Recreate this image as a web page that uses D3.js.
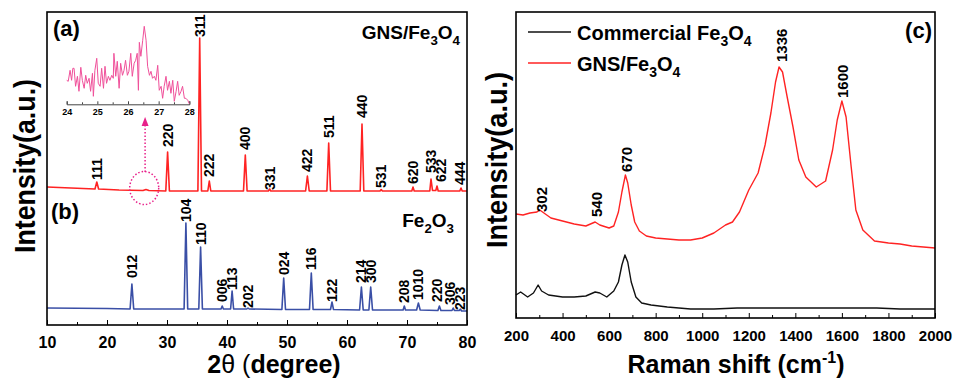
<!DOCTYPE html>
<html>
<head>
<meta charset="utf-8">
<script src="https://cdn.jsdelivr.net/npm/d3@7"></script>
<style>
body { margin: 0; background: #fff; }
svg text { font-family: "Liberation Sans", Arial, sans-serif; font-weight: bold; fill: #000; }
</style>
</head>
<body>
<svg id="chart" width="953" height="379"></svg>
<script>
// ---- XRD (a) GNS/Fe3O4 : [2theta, intensity a.u.]
var xrdGns = [[10,138],[14,137],[18.0,136],[18.3,143],[18.6,136],[22,135],[26,134.5],[26.5,135.5],[27,134.5],
  [29.8,134],[30.1,173],[30.4,134],[35.15,134],[35.45,287],[35.75,134],[36.8,134],[37.05,144],[37.3,134],
  [42.75,134],[43.05,170],[43.35,134],[46.9,134],[47.1,136],[47.3,134],[53.1,134],[53.4,149],[53.7,134],
  [56.65,134],[56.95,182],[57.25,134],[62.2,134],[62.5,201],[62.8,134],[65.5,134],[65.7,135.5],[65.9,134],
  [70.8,134],[71.0,138],[71.2,134],[73.8,134],[74.0,146],[74.25,134.5],[74.8,134.5],[75.0,139],[75.2,134],
  [78.8,134],[79.0,137],[79.2,134],[80,134]];
// ---- XRD (b) Fe2O3
var xrdFe2o3 = [[10,17],[20,16.5],[23.85,16],[24.15,41],[24.45,16],[32.85,16],[33.15,102],[33.45,16],
  [35.3,16],[35.6,78],[35.9,16],[39.0,16],[39.2,19],[39.4,16],[40.6,16],[40.85,34],[41.1,16],[43.3,16],
  [43.5,17],[43.7,16],[49.15,15.5],[49.45,47],[49.75,15.5],[53.75,15.5],[54.05,52],[54.35,15.5],
  [57.25,15.5],[57.5,23],[57.75,15.5],[62.1,15],[62.4,38],[62.7,15],[63.65,15],[63.95,38],[64.25,15],
  [69.35,15],[69.55,19],[69.75,15],[71.6,15],[71.9,22],[72.2,15],[75.15,14.5],[75.4,19],[75.65,14.5],
  [77.5,14.5],[77.7,17],[77.9,14.5],[78.7,14.5],[78.9,16],[79.1,14],[80,14]];
// peak labels: [text, 2theta, height of label foot]
var gnsLabels = [["111",18.3,145],["220",30.1,178],["311",35.45,288],["222",37.05,148],["400",43.05,175],
  ["331",47.1,135],["422",53.4,153],["511",56.95,187],["440",62.5,207],["531",65.7,137],["620",71.0,141],
  ["533",74.0,152],["622",75.7,143],["444",78.8,140]];
var fe2o3Labels = [["012",24.15,47],["104",33.15,103],["110",35.6,80],["006",39.2,23],["113",40.85,35],
  ["202",43.5,17],["024",49.45,50],["116",54.05,55],["122",57.5,23],["214",62.4,42],["300",64.0,42],
  ["208",69.5,22],["1010",71.9,25],["220",75.0,23],["306",77.2,20],["223",78.8,15]];
// inset: zoom of 24-28 degrees
var insetTheta = [24.00,24.05,24.11,24.16,24.20,24.24,24.29,24.35,24.40,24.46,24.51,24.57,24.62,24.67,24.73,
  24.78,24.84,24.87,24.92,24.98,25.03,25.09,25.14,25.20,25.25,25.30,25.36,25.41,25.47,25.52,25.54,25.60,
  25.65,25.71,25.76,25.82,25.87,25.92,25.98,26.03,26.09,26.14,26.20,26.25,26.30,26.34,26.37,26.42,26.48,
  26.53,26.59,26.64,26.70,26.75,26.80,26.86,26.91,26.97,27.02,27.08,27.13,27.18,27.24,27.29,27.35,27.40,
  27.46,27.51,27.57,27.62,27.67,27.73,27.78,27.84,27.89,27.95,28.00];
var insetCounts = [24,23,34,24,36,36,18,28,13,37,24,16,29,21,26,13,31,8,34,46,21,18,36,16,38,21,28,24,29,
  26,51,28,43,16,41,29,34,44,29,33,51,28,41,44,51,14,62,48,64,78,64,38,29,33,26,28,24,39,14,18,6,18,28,14,
  23,11,24,3,13,23,9,13,18,6,6,4,0.5];

// ---- Raman (c)
var ramanShift = [200,230,260,290,302,320,350,400,450,500,540,560,600,620,640,655,670,680,695,710,730,760,
  800,850,900,950,1000,1050,1100,1130,1160,1200,1240,1270,1295,1315,1330,1345,1365,1390,1415,1445,1490,
  1530,1560,1580,1600,1618,1640,1660,1690,1740,1800,1850,1900,1950,2000];
var ramanGns = [104,103,105,106,108,105,100,97,94,92,96,93,90,92,106,126,143,135,113,96,87,82,80,79,78,78,
  80,85,93,96,106,128,145,173,205,236,251,246,221,191,158,141,131,137,168,198,217,201,151,108,88,77,75,
  74,72,71,70];
var ramanComShift = [200,220,250,275,295,310,340,400,450,500,540,560,590,620,640,655,668,680,695,715,740,
  780,850,950,1050,1150,1250,1350,1450,1550,1650,1750,1850,1950,2000];
var ramanCommercial = [23,26,21,25,33,27,23,21,21,22,26,25,21,27,36,53,63,56,36,21,15,13,11,9,9,10,10,10,
  10,10,10,10,9,9,9];
var ramanLabels = [["302",310,106],["540",548,101],["670",677,146],["1336",1343,256],["1600",1605,220]];

var xrdTicks = [10,20,30,40,50,60,70,80];
var ramanTicks = [200,400,600,800,1000,1200,1400,1600,1800,2000];

var svg = d3.select("#chart");
var red = "#ff2323", blue = "#3a4fa6", pink = "#f0509a", magenta = "#e8208a";

// ---------- left panel
var x = d3.scaleLinear().domain([10, 80]).range([47, 467]);
var y = d3.scaleLinear().domain([0, 313]).range([325, 12]);

var line = d3.line().x(function(d){ return x(d[0]); }).y(function(d){ return y(d[1]); });

svg.append("path").datum(xrdGns).attr("d", line)
  .attr("fill", "none").attr("stroke", red).attr("stroke-width", 1.6).attr("stroke-linejoin", "round");
svg.append("path").datum(xrdFe2o3).attr("d", line)
  .attr("fill", "none").attr("stroke", blue).attr("stroke-width", 1.6).attr("stroke-linejoin", "round");

function peakLabels(data, xs, ys, size) {
  svg.append("g").selectAll("text").data(data).join("text")
    .attr("transform", function(d){ return "translate(" + xs(d[1]) + "," + ys(d[2]) + ") rotate(-90)"; })
    .attr("dy", "0.36em")
    .style("font-size", size + "px")
    .text(function(d){ return d[0]; });
}
peakLabels(gnsLabels, x, y, 14);
peakLabels(fe2o3Labels, x, y, 14);

var axA = svg.append("g").attr("transform", "translate(0,325)")
  .call(d3.axisBottom(x).tickValues(xrdTicks).tickSize(-5).tickPadding(12));
axA.select(".domain").remove();
axA.selectAll("text").style("font-size", "16px").style("font-family", null);
var axAm = svg.append("g").attr("transform", "translate(0,325)")
  .call(d3.axisBottom(x).tickValues(d3.range(15, 80, 10)).tickSize(-3).tickFormat(""));
axAm.select(".domain").remove();

svg.append("rect").attr("x", 47).attr("y", 12).attr("width", 420).attr("height", 313)
  .attr("fill", "none").attr("stroke", "#000").attr("stroke-width", 1.6);

// inset
var xi = d3.scaleLinear().domain([24, 28]).range([66.7, 189.3]);
var yi = d3.scaleLinear().domain([0, 90]).range([104.3, 14.3]);
var axI = svg.append("g").attr("transform", "translate(0,104.3)")
  .call(d3.axisBottom(xi).tickValues([24,25,26,27,28]).tickSize(-3).tickPadding(4).tickFormat(d3.format("d")));
axI.select(".domain").attr("stroke", "#444");
axI.selectAll("line").attr("stroke", "#444");
axI.selectAll("text").style("font-size", "9px").style("font-family", null);
var axIm = svg.append("g").attr("transform", "translate(0,104.3)")
  .call(d3.axisBottom(xi).tickValues([24.5,25.5,26.5,27.5]).tickSize(-2).tickFormat(""));
axIm.select(".domain").remove();
axIm.selectAll("line").attr("stroke", "#444");
svg.append("path").datum(d3.zip(insetTheta, insetCounts))
  .attr("d", d3.line().x(function(d){ return xi(d[0]); }).y(function(d){ return yi(d[1]); }))
  .attr("fill", "none").attr("stroke", pink).attr("stroke-width", 1);

// dotted marker: circle at 26.3 deg and arrow pointing to inset
svg.append("ellipse").attr("cx", x(26.2)).attr("cy", y(137)).attr("rx", 14.5).attr("ry", 16.5)
  .attr("fill", "none").attr("stroke", magenta).attr("stroke-width", 1.5).attr("stroke-dasharray", "1.5,2");
svg.append("line").attr("x1", x(26.35)).attr("x2", x(26.35)).attr("y1", y(153)).attr("y2", y(199))
  .attr("stroke", magenta).attr("stroke-width", 1.5).attr("stroke-dasharray", "1.5,2");
svg.append("path")
  .attr("d", "M" + (x(26.35) - 3.5) + "," + y(199) + "L" + x(26.35) + "," + y(208) + "L" + (x(26.35) + 3.5) + "," + y(199) + "Z")
  .attr("fill", magenta);

// formula text with subscripts
function chem(parent, parts, size) {
  parts.forEach(function(p) {
    var t = parent.append("tspan").text(p[0]);
    if (p[1]) t.style("font-size", (size * 0.7) + "px").attr("dy", size * 0.3);
    else if (p[2]) t.attr("dy", -size * 0.3);
  });
}
var tA = svg.append("text").attr("x", 460).attr("y", 39).attr("text-anchor", "end").style("font-size", "19px");
chem(tA, [["GNS/Fe"],["3",1],["O",0,1],["4",1]], 19);
var tB = svg.append("text").attr("x", 454).attr("y", 227).attr("text-anchor", "end").style("font-size", "19px");
chem(tB, [["Fe"],["2",1],["O",0,1],["3",1]], 19);

svg.append("text").attr("x", 53).attr("y", 36).style("font-size", "22px").text("(a)");
svg.append("text").attr("x", 51).attr("y", 219).style("font-size", "22px").text("(b)");

svg.append("text").attr("transform", "translate(35,166) rotate(-90)").attr("text-anchor", "middle")
  .attr("textLength", 174).attr("lengthAdjust", "spacingAndGlyphs")
  .style("font-size", "29px").text("Intensity(a.u.)");

var tX = svg.append("text").attr("x", 274).attr("y", 373).attr("text-anchor", "middle").style("font-size", "25px");
tX.append("tspan").text("2");
tX.append("tspan").style("font-weight", "normal").text("\u03b8 (");
tX.append("tspan").text("degree)");

// ---------- right panel (Raman)
var xr = d3.scaleLinear().domain([200, 2000]).range([516, 935]);
var yr = d3.scaleLinear().domain([0, 306]).range([318, 12]);
var rline = d3.line().x(function(d){ return xr(d[0]); }).y(function(d){ return yr(d[1]); });

svg.append("path").datum(d3.zip(ramanComShift, ramanCommercial)).attr("d", rline)
  .attr("fill", "none").attr("stroke", "#111").attr("stroke-width", 1.4).attr("stroke-linejoin", "round");
svg.append("path").datum(d3.zip(ramanShift, ramanGns)).attr("d", rline)
  .attr("fill", "none").attr("stroke", red).attr("stroke-width", 1.4).attr("stroke-linejoin", "round");

peakLabels(ramanLabels, xr, yr, 15);

var axR = svg.append("g").attr("transform", "translate(0,318)")
  .call(d3.axisBottom(xr).tickValues(ramanTicks).tickSize(-5).tickPadding(12).tickFormat(d3.format("d")));
axR.select(".domain").remove();
axR.selectAll("text").style("font-size", "15px").style("font-family", null);
var axRm = svg.append("g").attr("transform", "translate(0,318)")
  .call(d3.axisBottom(xr).tickValues(d3.range(300, 2000, 200)).tickSize(-3).tickFormat(""));
axRm.select(".domain").remove();

svg.append("rect").attr("x", 516).attr("y", 12).attr("width", 419).attr("height", 306)
  .attr("fill", "none").attr("stroke", "#000").attr("stroke-width", 1.6);

svg.append("text").attr("x", 932).attr("y", 38).attr("text-anchor", "end").style("font-size", "22px").text("(c)");

// legend
var legend = [["#111", [["Commercial Fe"],["3",1],["O",0,1],["4",1]]], [red, [["GNS/Fe"],["3",1],["O",0,1],["4",1]]]];
legend.forEach(function(l, i) {
  var ly = 32 + i * 31;
  svg.append("line").attr("x1", 528).attr("x2", 571).attr("y1", ly).attr("y2", ly)
    .attr("stroke", l[0]).attr("stroke-width", 1.3);
  var t = svg.append("text").attr("x", 577).attr("y", ly + 7.5).style("font-size", "20px");
  chem(t, l[1], 20);
});

svg.append("text").attr("transform", "translate(507,160) rotate(-90)").attr("text-anchor", "middle")
  .attr("textLength", 176).attr("lengthAdjust", "spacingAndGlyphs")
  .style("font-size", "29px").text("Intensity(a.u.)");

var tR = svg.append("text").attr("x", 736).attr("y", 373).attr("text-anchor", "middle").style("font-size", "25px");
tR.append("tspan").text("Raman shift (cm");
tR.append("tspan").style("font-size", "16px").attr("dy", -10).text("-1");
tR.append("tspan").attr("dy", 10).text(")");
</script>
</body>
</html>
